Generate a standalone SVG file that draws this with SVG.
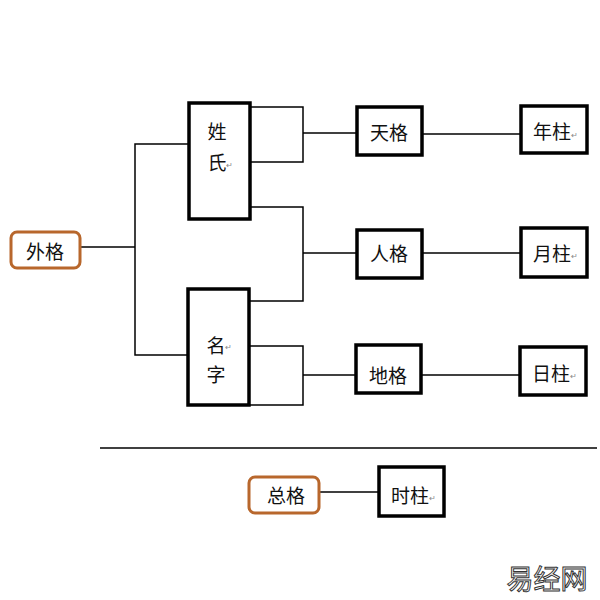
<svg xmlns="http://www.w3.org/2000/svg" width="600" height="600" viewBox="0 0 600 600">
<style>
.box{fill:#fff;stroke:#000;stroke-width:3.5}
.obox{fill:#fff;stroke:#b8672c;stroke-width:3}
.ln{fill:none;stroke:#000;stroke-width:1.5}
text{font-family:"Noto Sans CJK SC","Liberation Sans",sans-serif;font-size:19px;fill:#111;dominant-baseline:central}
.pm{font-size:8px;fill:#888}
</style>
<rect width="600" height="600" fill="#fff"/>
<g id="connectors">
<polyline class="ln" points="81,247 135,247"/>
<polyline class="ln" points="189,144 135,144 135,355 189,355"/>
<polyline class="ln" points="250,107 303,107 303,162 250,162"/>
<polyline class="ln" points="303,133 357,133"/>
<polyline class="ln" points="250,207 303,207 303,301 250,301"/>
<polyline class="ln" points="303,253 357,253"/>
<polyline class="ln" points="250,346 303,346 303,405 250,405"/>
<polyline class="ln" points="303,375 356,375"/>
<polyline class="ln" points="422,134 521,134"/>
<polyline class="ln" points="422,253 521,253"/>
<polyline class="ln" points="421,375 520,375"/>
<polyline class="ln" points="319,492 379,492"/>
<line x1="100" y1="448" x2="597" y2="448" stroke="#000" stroke-width="1.5"/>
</g>
<g id="waige"><rect class="obox" x="11" y="232" width="69" height="36" rx="6"/><text x="45" y="250" text-anchor="middle">外格</text></g>
<g id="xingshi"><rect class="box" x="189" y="103" width="61" height="116"/><text x="217" y="130" text-anchor="middle">姓</text><text x="217" y="161" text-anchor="middle">氏</text><text class="pm" x="226" y="164">↵</text></g>
<g id="mingzi"><rect class="box" x="188" y="289" width="61" height="116"/><text x="216" y="344" text-anchor="middle">名</text><text class="pm" x="225" y="346">↵</text><text x="216" y="373" text-anchor="middle">字</text></g>
<g id="tiange"><rect class="box" x="357" y="107" width="65" height="48"/><text x="389" y="131" text-anchor="middle">天格</text></g>
<g id="renge"><rect class="box" x="357" y="230" width="65" height="48"/><text x="389" y="252" text-anchor="middle">人格</text></g>
<g id="dige"><rect class="box" x="356" y="345" width="65" height="48"/><text x="388" y="374" text-anchor="middle">地格</text></g>
<g id="nianzhu"><rect class="box" x="521" y="106" width="66" height="47"/><text x="552" y="130" text-anchor="middle">年柱</text><text class="pm" x="571" y="134">↵</text></g>
<g id="yuezhu"><rect class="box" x="521" y="228" width="66" height="49"/><text x="552" y="252" text-anchor="middle">月柱</text><text class="pm" x="571" y="255">↵</text></g>
<g id="rizhu"><rect class="box" x="520" y="347" width="66" height="48"/><text x="551" y="372" text-anchor="middle">日柱</text><text class="pm" x="570" y="375">↵</text></g>
<g id="zongge"><rect class="obox" x="249" y="477" width="70" height="36" rx="6"/><text x="286" y="494" text-anchor="middle">总格</text></g>
<g id="shizhu"><rect class="box" x="379" y="467" width="65" height="49"/><text x="410" y="494" text-anchor="middle">时柱</text><text class="pm" x="429" y="497">↵</text></g>
<text x="547" y="577" text-anchor="middle" style="font-size:27px;fill:#fff;stroke:#333;stroke-width:1">易经网</text>
</svg>
